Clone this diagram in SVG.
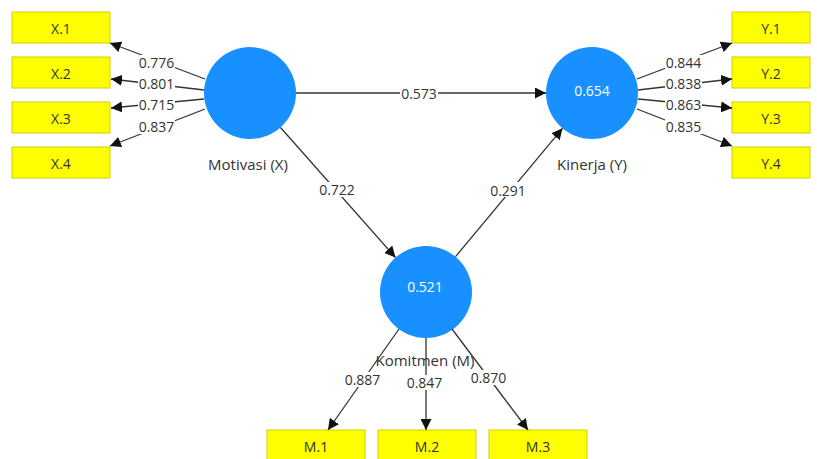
<svg xmlns="http://www.w3.org/2000/svg" width="817" height="459" viewBox="0 0 817 459">
<defs>
<style>
.ind rect{fill:#FFFF00;stroke:#CFCF00;stroke-width:1}
.ind text{font-family:"Open Sans","Noto Sans",sans-serif;font-size:14px;fill:#333;text-anchor:middle;dominant-baseline:central}
.lv circle{fill:#1890FF}
.lv text.v{font-family:"Open Sans","Noto Sans",sans-serif;font-size:14px;fill:#fff;text-anchor:middle;dominant-baseline:central}
.lv text.n{font-family:"Open Sans","Noto Sans",sans-serif;font-size:15px;fill:#333;text-anchor:middle;dominant-baseline:central}
.edge line{stroke:#333;stroke-width:1.3;marker-end:url(#ah)}
.lbl rect{fill:#fff}
.lbl text{font-family:"Open Sans","Noto Sans",sans-serif;font-size:14px;fill:#333;text-anchor:middle;dominant-baseline:central}
</style>
<marker id="ah" viewBox="0 0 10 10" refX="10" refY="5" markerWidth="11" markerHeight="11" markerUnits="userSpaceOnUse" orient="auto">
<path d="M0,0 L10,5 L0,10 Z" fill="#111"/>
</marker>
</defs>
<rect width="817" height="459" fill="#fff"/>

<g id="X1" class="ind"><rect x="12" y="12" width="98" height="31"/><text x="61" y="28">X.1</text></g>
<g id="X2" class="ind"><rect x="12" y="57" width="98" height="31"/><text x="61" y="73">X.2</text></g>
<g id="X3" class="ind"><rect x="12" y="102" width="98" height="31"/><text x="61" y="118">X.3</text></g>
<g id="X4" class="ind"><rect x="12" y="147" width="98" height="31"/><text x="61" y="163">X.4</text></g>

<g id="Y1" class="ind"><rect x="732" y="12" width="78" height="31"/><text x="771" y="28">Y.1</text></g>
<g id="Y2" class="ind"><rect x="732" y="57" width="78" height="31"/><text x="771" y="73">Y.2</text></g>
<g id="Y3" class="ind"><rect x="732" y="102" width="78" height="31"/><text x="771" y="118">Y.3</text></g>
<g id="Y4" class="ind"><rect x="732" y="147" width="78" height="31"/><text x="771" y="163">Y.4</text></g>

<g id="M1" class="ind"><rect x="267" y="430" width="98" height="31"/><text x="316" y="446">M.1</text></g>
<g id="M2" class="ind"><rect x="378" y="430" width="98" height="31"/><text x="427" y="446">M.2</text></g>
<g id="M3" class="ind"><rect x="489" y="430" width="98" height="31"/><text x="538" y="446">M.3</text></g>

<g id="Motivasi" class="lv"><circle cx="250" cy="93" r="46"/><text class="n" x="248" y="164">Motivasi (X)</text></g>
<g id="Kinerja" class="lv"><circle cx="592" cy="93" r="46"/><text class="v" x="592" y="90">0.654</text><text class="n" x="592" y="164">Kinerja (Y)</text></g>
<g id="Komitmen" class="lv"><circle cx="426" cy="292" r="46"/><text class="v" x="425" y="286">0.521</text><text class="n" x="425" y="360">Komitmen (M)</text></g>

<g id="connectors">
<g class="edge">
<line x1="205" y1="79" x2="110" y2="43"/>
<line x1="204" y1="90" x2="111" y2="79"/>
<line x1="204" y1="99" x2="111" y2="108"/>
<line x1="205" y1="109" x2="110" y2="146"/>
<line x1="637" y1="79" x2="732" y2="43"/>
<line x1="638" y1="90" x2="732" y2="79"/>
<line x1="638" y1="99" x2="732" y2="108"/>
<line x1="637" y1="109" x2="732" y2="146"/>
<line x1="296" y1="93" x2="546" y2="93"/>
<line x1="280.5" y1="127.5" x2="395.5" y2="257.5"/>
<line x1="455.5" y1="256.7" x2="562.5" y2="128.3"/>
<line x1="399" y1="329" x2="328" y2="430"/>
<line x1="426" y1="338" x2="426" y2="430"/>
<line x1="452" y1="329" x2="528" y2="430"/>
</g>
<g class="lbl">
<rect x="138" y="55" width="37" height="15"/><text x="156.5" y="62.5">0.776</text>
<rect x="138" y="76" width="37" height="15"/><text x="156.5" y="83.5">0.801</text>
<rect x="138" y="97" width="37" height="15"/><text x="156.5" y="104">0.715</text>
<rect x="138" y="119" width="37" height="15"/><text x="156.5" y="126">0.837</text>
<rect x="665" y="55" width="37" height="15"/><text x="683.5" y="62">0.844</text>
<rect x="665" y="76" width="37" height="15"/><text x="683.5" y="83.5">0.838</text>
<rect x="665" y="97" width="37" height="15"/><text x="683.5" y="104">0.863</text>
<rect x="665" y="119" width="37" height="15"/><text x="683.5" y="126.5">0.835</text>
<rect x="400" y="86" width="38" height="15"/><text x="419" y="93.5">0.573</text>
<rect x="318" y="182" width="38" height="15"/><text x="337" y="189.5">0.722</text>
<rect x="489" y="182" width="38" height="15"/><text x="508" y="190">0.291</text>
<rect x="344" y="372" width="37" height="15"/><text x="362.5" y="379.5">0.887</text>
<rect x="406" y="375" width="37" height="15"/><text x="424.5" y="382.5">0.847</text>
<rect x="470" y="370" width="37" height="15"/><text x="488.5" y="377.5">0.870</text>
</g>
</g>
</svg>
